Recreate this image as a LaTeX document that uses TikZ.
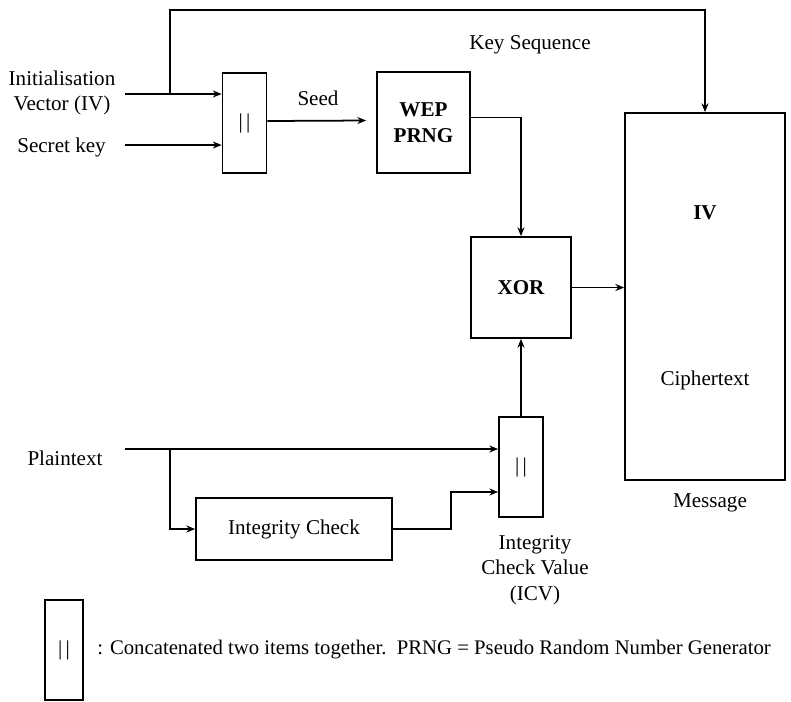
\documentclass[tikz,border=0pt]{standalone}
\usepackage{fontspec}
\setmainfont{Liberation Serif}
\usetikzlibrary{arrows.meta,calc}

\tikzset{
  box/.style={draw, line width=1pt, rectangle, inner sep=0pt},
  catbox/.style={box, minimum width=0.88cm, minimum height=2cm},
  flow/.style={line width=1pt, -{Stealth[length=5pt,width=4pt]}},
  label/.style={font=\fontsize{12}{14.5}\selectfont, align=center},
}

\begin{document}
\begin{tikzpicture}
    \useasboundingbox (0,0) rectangle (15.82,-14.02);

    % Boxes
    \node[catbox, label] (cat) at (4.89,-2.46) {|\,|};
    \node[box, label, font=\fontsize{12}{14.5}\selectfont\bfseries, minimum width=1.86cm, minimum height=2.02cm] (prng) at (8.47,-2.45) {WEP\\PRNG};
    \node[box, label, font=\fontsize{12}{14.5}\selectfont\bfseries, minimum width=2cm, minimum height=2.02cm] (xor) at (10.42,-5.75) {XOR};
    \node[box, minimum width=3.2cm, minimum height=7.34cm] (msg) at (14.1,-5.93) {};
    \node[catbox, label] (icv) at (10.42,-9.34) {|\,|};
    \node[box, label, minimum width=3.92cm, minimum height=1.24cm] (ic) at (5.88,-10.58) {Integrity Check};

    % Labels
    \node[label] (ivtxt) at (1.24,-1.86) {Initialisation\\Vector (IV)};
    \node[label] (keytxt) at (1.23,-2.94) {Secret key};
    \node[label] (ptxt) at (1.3,-9.16) {Plaintext};
    \node[label] (seedtxt) at (6.36,-1.96) {Seed};
    \node[label] (kstxt) at (10.6,-0.9) {Key Sequence};
    \node[label, font=\fontsize{12}{14.5}\selectfont\bfseries] (ivmsg) at (14.1,-4.26) {IV};
    \node[label] (ctxt) at (14.1,-7.6) {Ciphertext};
    \node[label] (msgtxt) at (14.2,-10.06) {Message};
    \node[label] (icvtxt) at (10.7,-11.4) {Integrity\\Check Value\\(ICV)};

    % Inputs
    \coordinate (ivin) at (2.5,-1.88);
    \coordinate (keyin) at (2.5,-2.9);
    \coordinate (pin) at (2.5,-8.98);
    \coordinate (ivsplit) at (3.4,-1.88);
    \coordinate (psplit) at (3.4,-8.98);
    \coordinate (icbend) at (9.02,-10.58);

    % Connectors
    \draw[flow] (ivin) -- (ivin -| cat.west);
    \draw[flow] (keyin) -- (keyin -| cat.west);
    \draw[flow] (ivsplit) -- (3.4,-0.2) -| (msg.north);
    \draw[flow] ($(cat.east)+(0,0.04)$) -- ($(prng.west)+(-0.2,0.04)$);
    \draw[flow] ($(prng.east)+(0,0.1)$) -| (xor.north);
    \draw[flow] (xor.east) -- (xor.east -| msg.west);
    \draw[flow] (icv.north) -- (xor.south);
    \draw[flow] (pin) -- (pin -| icv.west);
    \draw[flow] (psplit) |- (ic.west);
    \draw[flow] (ic.east) -- (icbend) |- ($(icv.west)+(0,-0.5)$);

    % Legend
    \node[catbox, label, minimum width=0.76cm] (legbox) at (1.28,-13.0) {|\,|};
    \node[label, anchor=west, inner sep=0pt, font=\fontsize{11.8}{14}\selectfont] (legtxt) at (1.94,-13.0)
      {: Concatenated two items together.\ \ PRNG = Pseudo Random Number Generator};
\end{tikzpicture}
\end{document}
